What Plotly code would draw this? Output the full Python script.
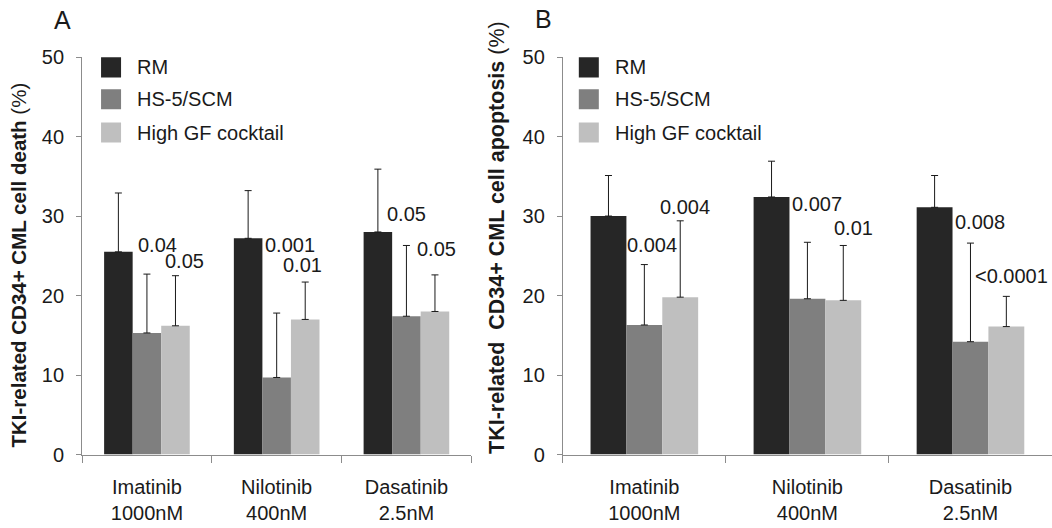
import plotly.graph_objects as go

categories = ["Imatinib<br>1000nM", "Nilotinib<br>400nM", "Dasatinib<br>2.5nM"]
series_names = ["RM", "HS-5/SCM", "High GF cocktail"]
colors = ["#262626", "#7f7f7f", "#bfbfbf"]

# Panel A: TKI-related CD34+ CML cell death (%)
a_rm = [25.5, 27.2, 28.0]
a_hs5 = [15.3, 9.7, 17.4]
a_gf = [16.2, 17.0, 18.0]
a_rm_err = [7.4, 6.0, 7.9]
a_hs5_err = [7.4, 8.1, 8.9]
a_gf_err = [6.3, 4.7, 4.6]
a_pvals = ["0.04", "0.05", "0.001", "0.01", "0.05", "0.05"]
a_pos_x = [0.085, 0.29, 1.10, 1.20, 2.00, 2.23]
a_pos_y = [26.4, 24.3, 26.4, 23.9, 30.2, 25.8]

# Panel B: TKI-related CD34+ CML cell apoptosis (%)
b_rm = [30.0, 32.4, 31.1]
b_hs5 = [16.3, 19.6, 14.2]
b_gf = [19.8, 19.4, 16.1]
b_rm_err = [5.1, 4.5, 4.0]
b_hs5_err = [7.6, 7.1, 12.4]
b_gf_err = [9.6, 6.9, 3.8]
b_pvals = ["0.004", "0.004", "0.007", "0.01", "0.008", "<0.0001"]
b_pos_x = [0.25, 0.044, 1.06, 1.28, 2.06, 2.25]
b_pos_y = [31.2, 26.3, 31.5, 28.5, 29.2, 22.5]

FONT = "Liberation Sans, Arial, sans-serif"
TXT = "#1a1a1a"
W, H = 1052, 528
fig = go.Figure()

def add_panel(vals, errs, xa, ya):
    for name, v, e, c in zip(series_names, vals, errs, colors):
        fig.add_trace(go.Bar(
            x=categories, y=v, name=name, marker=dict(color=c, line=dict(width=0)),
            error_y=dict(type="data", array=e, arrayminus=[0]*len(e), symmetric=False,
                         color="#1a1a1a", thickness=1, width=3.5),
            xaxis=xa, yaxis=ya, showlegend=False))

add_panel([a_rm, a_hs5, a_gf], [a_rm_err, a_hs5_err, a_gf_err], "x", "y")
add_panel([b_rm, b_hs5, b_gf], [b_rm_err, b_hs5_err, b_gf_err], "x2", "y2")

ydom = [0.139, 0.892]
axis_common = dict(showline=True, linecolor="#8c8c8c", linewidth=1, showgrid=False, zeroline=False,
                   automargin=False, tickfont=dict(family=FONT, size=20, color=TXT))
fig.update_layout(
    width=W, height=H, margin=dict(l=0, r=0, t=0, b=0, autoexpand=False),
    paper_bgcolor="white", plot_bgcolor="white",
    barmode="group", bargap=0.34, bargroupgap=0,
    xaxis=dict(domain=[0.078, 0.448], anchor="y", ticks="outside", tickson="boundaries",
               ticklen=7, tickcolor="#8c8c8c", ticklabelstandoff=14, **axis_common),
    yaxis=dict(domain=ydom, anchor="x", range=[0, 50], dtick=10, ticks="outside", ticklen=5,
               tickcolor="#8c8c8c", ticklabelstandoff=8, **axis_common),
    xaxis2=dict(domain=[0.535, 1.0], anchor="y2", ticks="outside", tickson="boundaries",
                ticklen=7, tickcolor="#8c8c8c", ticklabelstandoff=14, **axis_common),
    yaxis2=dict(domain=ydom, anchor="x2", range=[0, 50], dtick=10, ticks="outside", ticklen=5,
                tickcolor="#8c8c8c", ticklabelstandoff=8, **axis_common),
    font=dict(family=FONT, color=TXT),
)

ann = []
for t, x, y in zip(a_pvals, a_pos_x, a_pos_y):
    ann.append(dict(text=t, x=x, y=y, xref="x", yref="y", showarrow=False,
                    font=dict(size=20, family=FONT, color=TXT)))
for t, x, y in zip(b_pvals, b_pos_x, b_pos_y):
    ann.append(dict(text=t, x=x, y=y, xref="x2", yref="y2", showarrow=False,
                    font=dict(size=20, family=FONT, color=TXT)))

# panel letters (anchored to the top edge of the figure)
ann.append(dict(text="A", x=52/W, y=1, xref="paper", yref="paper", yanchor="top",
                showarrow=False, yshift=-4, font=dict(size=25, family=FONT, color=TXT)))
ann.append(dict(text="B", x=543/W, y=1, xref="paper", yref="paper", yanchor="top",
                showarrow=False, yshift=-3, font=dict(size=25, family=FONT, color=TXT)))

# y titles
ann.append(dict(text="<b>TKI-related CD34+ CML cell death</b> (%)", x=0, y=1-265/H,
                xref="paper", yref="paper", xanchor="left", xshift=4, showarrow=False, textangle=-90,
                font=dict(size=20.5, family=FONT, color=TXT)))
ann.append(dict(text="<b>TKI-related&nbsp; CD34+ CML cell apoptosis</b> (%)", x=497/W, y=1-238/H,
                xref="paper", yref="paper", showarrow=False, textangle=-90,
                font=dict(size=21.5, family=FONT, color=TXT)))

# legends (manual), rows given in y-axis units
legend_rows = [48.7, 44.7, 40.5]
shapes = []
def legend(xa, ya, dom_w, sq_px, txt_px):
    for name, c, yv in zip(series_names, colors, legend_rows):
        shapes.append(dict(type="rect", xref=xa + " domain", yref=ya,
                           x0=sq_px/dom_w, x1=(sq_px+20)/dom_w,
                           y0=yv - 1.26, y1=yv + 1.26,
                           fillcolor=c, line=dict(width=0)))
        ann.append(dict(text=name, x=txt_px/dom_w, y=yv, xref=xa + " domain", yref=ya,
                        xanchor="left", yanchor="middle", showarrow=False,
                        font=dict(size=20, family=FONT, color=TXT)))

legend("x", "y", W*0.37, 101-82, 135-82)
legend("x2", "y2", W*0.465, 579-563, 613-563)

fig.update_layout(annotations=ann, shapes=shapes)
fig.write_html("out.html")
